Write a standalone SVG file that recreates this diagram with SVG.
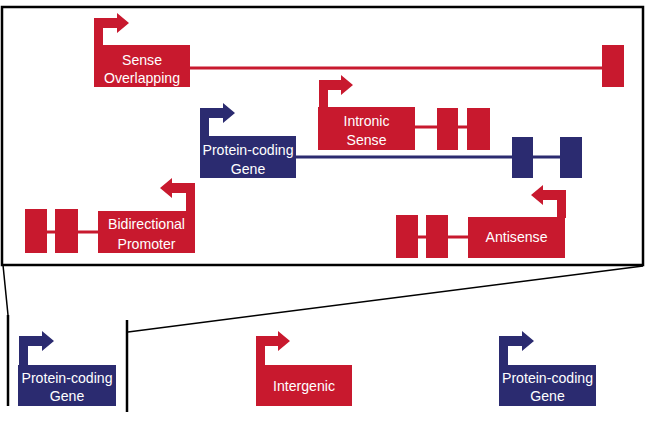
<svg xmlns="http://www.w3.org/2000/svg" width="648" height="422" viewBox="0 0 648 422">
<style>
.r{fill:#C8192E}
.b{fill:#2B2B70}
.t{fill:#fff;font-family:"Liberation Sans",Arial,sans-serif;font-size:15px;text-anchor:middle}
.lr{stroke:#C8192E;stroke-width:3;fill:none}
.lb{stroke:#2B2B70;stroke-width:3;fill:none}
.k{stroke:#000;fill:none}
</style>
<rect width="648" height="422" fill="#fff"/>
<g id="connectors">
<path class="lr" d="M190,68H603"/>
<path class="lr" d="M415,127H468"/>
<path class="lb" d="M296,157H560"/>
<path class="lr" d="M47,232H98"/>
<path class="lr" d="M418,237H468"/>
<path class="k" stroke-width="1.5" d="M3,265L8,315"/>
<path class="k" stroke-width="1.5" d="M128,332L643,266"/>
<path class="k" stroke-width="2.5" d="M8,315V406"/>
<path class="k" stroke-width="2.5" d="M127,320V412"/>
</g>
<g id="frame"><rect class="k" stroke-width="2.5" x="2" y="7" width="641" height="258"/></g>
<g id="sense-overlapping">
<path class="r" d="M94,46V18H117V13L129,23L117,33V28H103V46Z"/>
<rect class="r" x="94" y="45" width="96" height="42"/>
<rect class="r" x="602" y="45" width="22" height="42"/>
<text class="t" x="142" y="65" textLength="40" lengthAdjust="spacingAndGlyphs">Sense</text>
<text class="t" x="142" y="83" textLength="76" lengthAdjust="spacingAndGlyphs">Overlapping</text>
</g>
<g id="intronic-sense">
<path class="r" d="M319,108V80H341V75L353,85L341,95V90H328V108Z"/>
<rect class="r" x="318" y="107" width="97" height="43"/>
<rect class="r" x="437" y="108" width="21" height="42"/>
<rect class="r" x="467" y="108" width="23" height="42"/>
<text class="t" x="366.5" y="126" textLength="46" lengthAdjust="spacingAndGlyphs">Intronic</text>
<text class="t" x="366.5" y="145" textLength="40" lengthAdjust="spacingAndGlyphs">Sense</text>
</g>
<g id="protein-coding-mid">
<path class="b" d="M200,137V108H223V103L235,113L223,123V118H209V137Z"/>
<rect class="b" x="200" y="136" width="96" height="42"/>
<rect class="b" x="512" y="137" width="21" height="41"/>
<rect class="b" x="560" y="137" width="22" height="41"/>
<text class="t" x="248" y="155" textLength="91" lengthAdjust="spacingAndGlyphs">Protein-coding</text>
<text class="t" x="248" y="174" textLength="34.5" lengthAdjust="spacingAndGlyphs">Gene</text>
</g>
<g id="bidirectional-promoter">
<path class="r" d="M195,212V183H172V178L160,188L172,198V193H186V212Z"/>
<rect class="r" x="98" y="211" width="97" height="42"/>
<rect class="r" x="25" y="209" width="22" height="44"/>
<rect class="r" x="55" y="209" width="23" height="44"/>
<text class="t" x="146.5" y="229" textLength="77" lengthAdjust="spacingAndGlyphs">Bidirectional</text>
<text class="t" x="146.5" y="249" textLength="58" lengthAdjust="spacingAndGlyphs">Promoter</text>
</g>
<g id="antisense">
<path class="r" d="M566,218V190H543V185L531,195L543,205V200H557V218Z"/>
<rect class="r" x="468" y="217" width="97" height="41"/>
<rect class="r" x="396" y="215" width="22" height="43"/>
<rect class="r" x="426" y="215" width="22" height="43"/>
<text class="t" x="516.5" y="242" textLength="62" lengthAdjust="spacingAndGlyphs">Antisense</text>
</g>
<g id="protein-coding-left">
<path class="b" d="M19,366V336H42V331L54,341L42,351V346H28V366Z"/>
<rect class="b" x="18" y="365" width="98" height="41"/>
<text class="t" x="67" y="383" textLength="91" lengthAdjust="spacingAndGlyphs">Protein-coding</text>
<text class="t" x="67" y="401" textLength="34.5" lengthAdjust="spacingAndGlyphs">Gene</text>
</g>
<g id="intergenic">
<path class="r" d="M256,366V336H278V331L290,341L278,351V346H265V366Z"/>
<rect class="r" x="256" y="365" width="96" height="41"/>
<text class="t" x="304" y="391" textLength="62" lengthAdjust="spacingAndGlyphs">Intergenic</text>
</g>
<g id="protein-coding-right">
<path class="b" d="M499,366V336H522V331L534,341L522,351V346H508V366Z"/>
<rect class="b" x="499" y="365" width="97" height="41"/>
<text class="t" x="547.5" y="383" textLength="91" lengthAdjust="spacingAndGlyphs">Protein-coding</text>
<text class="t" x="547.5" y="401" textLength="34.5" lengthAdjust="spacingAndGlyphs">Gene</text>
</g>
</svg>
